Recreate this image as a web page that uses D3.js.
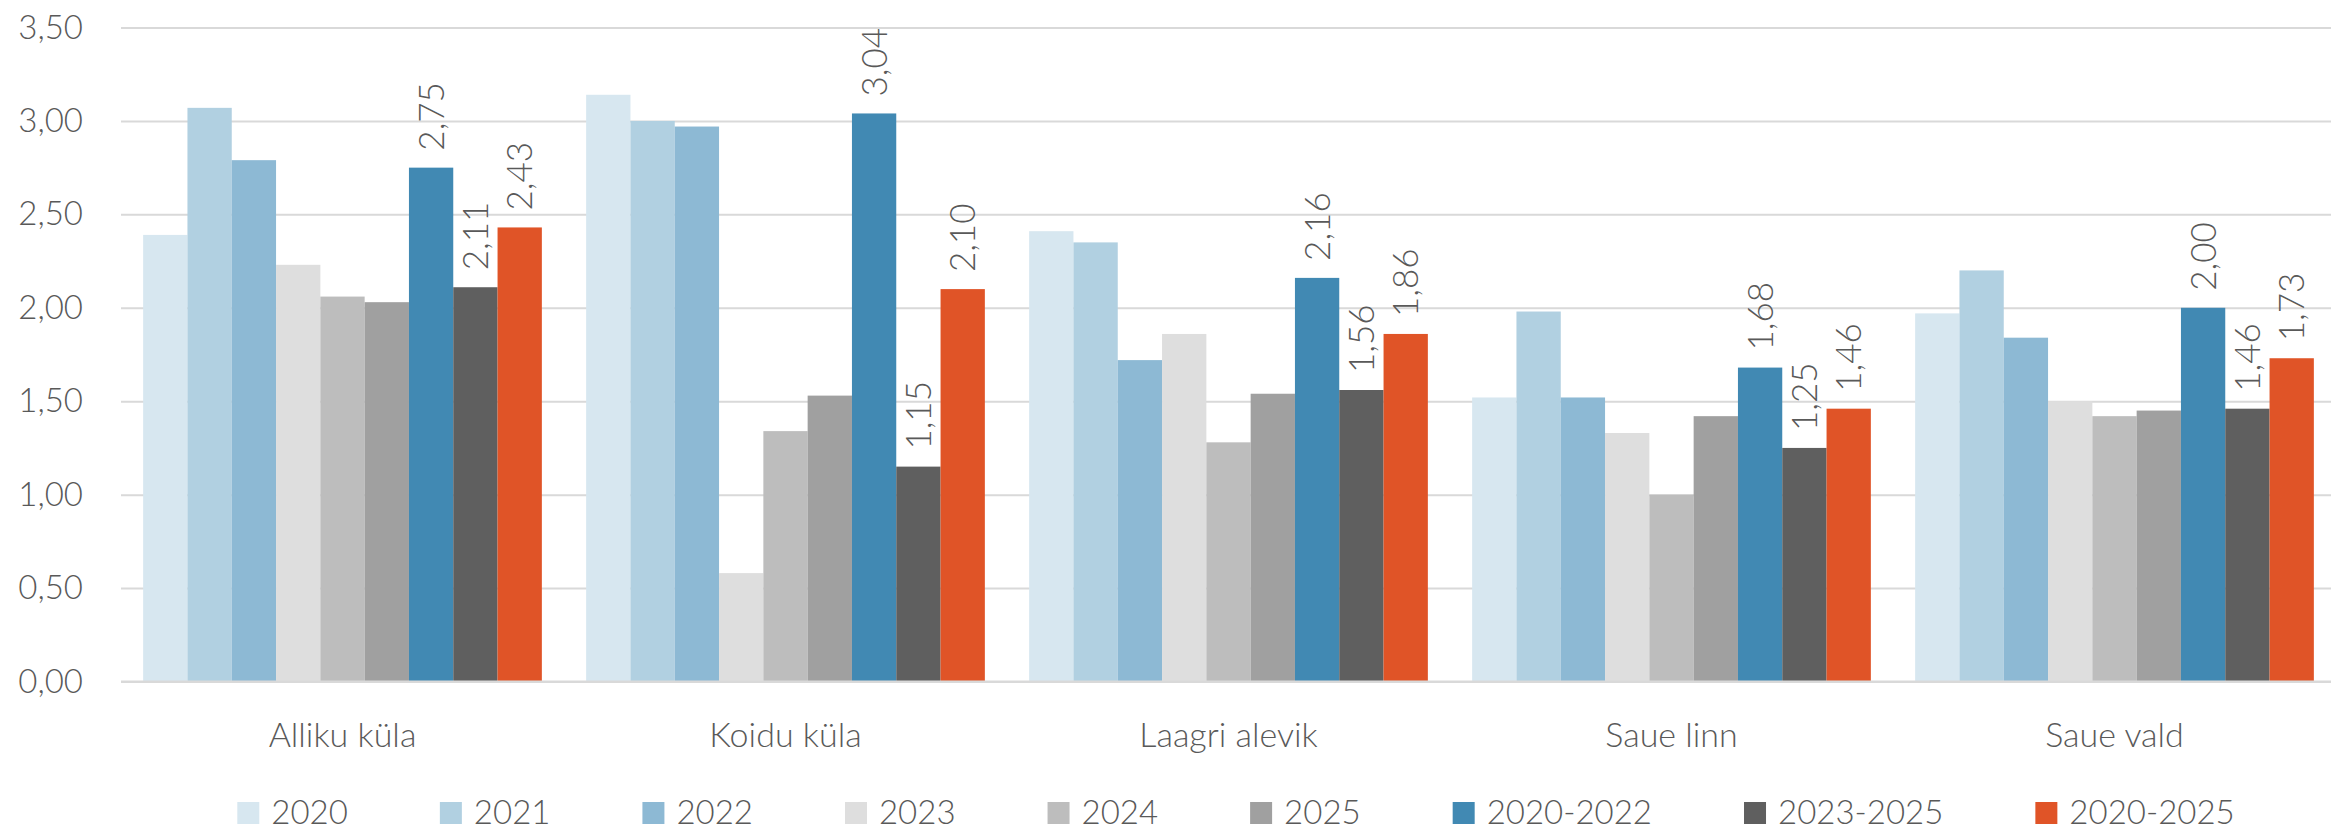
<!DOCTYPE html>
<html>
<head>
<meta charset="utf-8">
<script src="https://cdn.jsdelivr.net/npm/d3@7"></script>
<style>
  html, body { margin: 0; padding: 0; background: #ffffff; }
  svg { display: block; }
  text { font-family: "Lato", "Open Sans", sans-serif; font-weight: 300; fill: #595959; }
</style>
</head>
<body>
<div id="chart"></div>
<script>
// Categories (settlements) and series
const categories = ["Alliku küla", "Koidu küla", "Laagri alevik", "Saue linn", "Saue vald"];
const seriesNames = ["2020", "2021", "2022", "2023", "2024", "2025", "2020-2022", "2023-2025", "2020-2025"];

// Values per series, in category order
const v2020      = [2.39, 3.14, 2.41, 1.52, 1.97];
const v2021      = [3.07, 3.00, 2.35, 1.98, 2.20];
const v2022      = [2.79, 2.97, 1.72, 1.52, 1.84];
const v2023      = [2.23, 0.58, 1.86, 1.33, 1.50];
const v2024      = [2.06, 1.34, 1.28, 1.00, 1.42];
const v2025      = [2.03, 1.53, 1.54, 1.42, 1.45];
const v2020_2022 = [2.75, 3.04, 2.16, 1.68, 2.00];
const v2023_2025 = [2.11, 1.15, 1.56, 1.25, 1.46];
const v2020_2025 = [2.43, 2.10, 1.86, 1.46, 1.73];

const seriesValues = [v2020, v2021, v2022, v2023, v2024, v2025, v2020_2022, v2023_2025, v2020_2025];
const seriesColors = ["#d7e7f0", "#b1d0e1", "#8db9d4", "#dedede", "#bdbdbd", "#a0a0a0", "#4189b3", "#5f5f5f", "#e05427"];
const labelledSeries = ["2020-2022", "2023-2025", "2020-2025"];

// Y axis ticks
const yTicks = [0, 0.5, 1.0, 1.5, 2.0, 2.5, 3.0, 3.5];

const W = 2331, H = 832;
const locale = d3.formatLocale({ decimal: ",", thousands: " ", grouping: [3], currency: ["", " €"] });
const fmt = locale.format(".2f");

const svg = d3.select("#chart").append("svg")
  .attr("width", W).attr("height", H);

const x0 = d3.scaleBand().domain(categories).range([121, 2336]).paddingInner(0).paddingOuter(0);
const x1 = d3.scaleBand().domain(seriesNames).range([0, x0.bandwidth()]).paddingInner(0).paddingOuter(0.5);
const y = d3.scaleLinear().domain([0, 3.5]).range([681.5, 27.5]);

// Gridlines and tick labels
const yAxis = d3.axisLeft(y).tickValues(yTicks).tickFormat(fmt).tickSize(-(2336 - 121)).tickPadding(38);
const gy = svg.append("g").attr("transform", "translate(121,0)").call(yAxis);
gy.select(".domain").remove();
gy.selectAll(".tick line").attr("stroke", "#d9d9d9").attr("stroke-width", 2);
gy.selectAll(".tick text")
  .attr("font-size", 33)
  .attr("fill", "#595959")
  .style("font-family", "Lato, 'Open Sans', sans-serif")
  .style("font-weight", 300);

// Bars
const rows = [];
seriesNames.forEach((s, si) => {
  categories.forEach((c, ci) => {
    rows.push({ series: s, cat: c, value: seriesValues[si][ci], color: seriesColors[si] });
  });
});

svg.append("g").selectAll("rect").data(rows).join("rect")
  .attr("x", d => x0(d.cat) + x1(d.series))
  .attr("y", d => y(d.value))
  .attr("width", x1.bandwidth())
  .attr("height", d => y(0) - y(d.value))
  .attr("fill", d => d.color);

// Baseline
svg.append("line")
  .attr("x1", 121).attr("x2", 2336)
  .attr("y1", y(0)).attr("y2", y(0))
  .attr("stroke", "#d9d9d9").attr("stroke-width", 2);

// Rotated value labels on the period averages
svg.append("g").selectAll("text")
  .data(rows.filter(d => labelledSeries.includes(d.series)))
  .join("text")
  .attr("transform", d => `translate(${x0(d.cat) + x1(d.series) + x1.bandwidth() / 2},${y(d.value) - 17}) rotate(-90)`)
  .attr("dy", "0.36em")
  .attr("text-anchor", "start")
  .attr("font-size", 35)
  .text(d => fmt(d.value));

// Category labels
svg.append("g").selectAll("text").data(categories).join("text")
  .attr("x", d => x0(d) + x0.bandwidth() / 2)
  .attr("y", 747)
  .attr("text-anchor", "middle")
  .attr("font-size", 34)
  .text(d => d);

// Legend
const legend = svg.append("g");
const items = legend.selectAll("g").data(seriesNames).join("g");
items.append("rect")
  .attr("width", 22).attr("height", 22)
  .attr("y", 802)
  .attr("fill", (d, i) => seriesColors[i]);
items.append("text")
  .attr("x", 34).attr("y", 824)
  .attr("font-size", 33)
  .text(d => d);
let cx = 0;
const offsets = [];
const gap = 92;
items.each(function () {
  const tw = d3.select(this).select("text").node().getComputedTextLength();
  offsets.push(cx);
  cx += 34 + tw + gap;
});
const totalW = cx - gap;
const startX = 1236 - totalW / 2;
items.attr("transform", (d, i) => `translate(${startX + offsets[i]},0)`);
</script>
</body>
</html>
